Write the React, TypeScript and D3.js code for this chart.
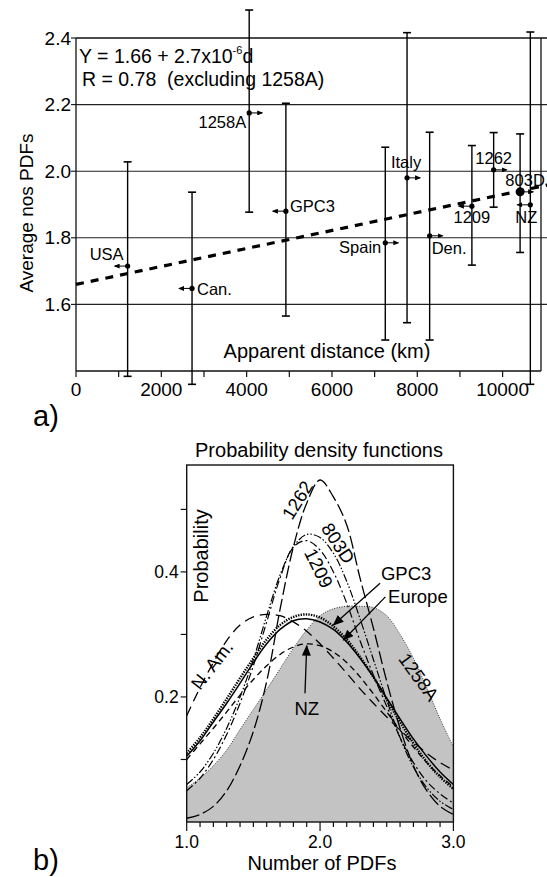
import * as d3 from "d3";
import React from "react";

// ---- panel a: average number of PDFs vs apparent distance ----
const sites = ["USA", "Can.", "1258A", "GPC3", "Spain", "Italy", "Den.", "1209", "1262", "803D", "NZ"];
const distanceKm = [1210, 2720, 4060, 4920, 7250, 7760, 8290, 9280, 9790, 10410, 10650];
const meanPdfs = [1.715, 1.648, 2.175, 1.88, 1.785, 1.98, 1.806, 1.895, 2.004, 1.938, 1.899];
const upperPdfs = [2.028, 1.937, 2.484, 2.204, 2.072, 2.416, 2.117, 2.077, 2.116, 2.112, 2.418];
const lowerPdfs = [1.384, 1.36, 1.877, 1.565, 1.493, 1.545, 1.493, 1.718, 1.892, 1.756, 1.36];
// direction of the bound arrow on distance (-1 left, 1 right)
const distanceBound = [-1, -1, 1, -1, 1, 1, 1, -1, 1, 1, -1];
const trendIntercept = 1.66;
const trendSlope = 2.7e-5;
const distanceTicks = [0, 1000, 2000, 3000, 4000, 5000, 6000, 7000, 8000, 9000, 10000];
const distanceLabels = [0, 2000, 4000, 6000, 8000, 10000];
const pdfGrid = [1.6, 1.8, 2.0, 2.2];
const pdfTickLabels = [1.6, 1.8, 2.0, 2.2, 2.4];

// ---- panel b: probability density functions ----
const numPdfs = [1.0, 1.1, 1.2, 1.3, 1.4, 1.5, 1.6, 1.7, 1.8, 1.9, 2.0, 2.1, 2.2, 2.3, 2.4, 2.5, 2.6, 2.7, 2.8, 2.9, 3.0];
const pdf1258A = [0.055, 0.07, 0.09, 0.115, 0.148, 0.18, 0.212, 0.245, 0.278, 0.307, 0.33, 0.341, 0.345, 0.345, 0.343, 0.33, 0.3, 0.262, 0.215, 0.165, 0.12];
const pdf1262 = [0.006, 0.012, 0.025, 0.05, 0.09, 0.145, 0.225, 0.34, 0.44, 0.51, 0.547, 0.52, 0.475, 0.39, 0.31, 0.225, 0.15, 0.09, 0.05, 0.025, 0.012];
const pdf803D = [0.06, 0.08, 0.11, 0.15, 0.2, 0.26, 0.33, 0.395, 0.44, 0.46, 0.455, 0.43, 0.385, 0.325, 0.26, 0.195, 0.135, 0.088, 0.055, 0.033, 0.02];
const pdf1209 = [0.05, 0.07, 0.1, 0.14, 0.19, 0.25, 0.32, 0.39, 0.44, 0.45, 0.435, 0.4, 0.35, 0.29, 0.235, 0.185, 0.135, 0.095, 0.065, 0.045, 0.03];
const pdfGPC3 = [0.105, 0.13, 0.16, 0.19, 0.222, 0.255, 0.285, 0.308, 0.322, 0.325, 0.32, 0.308, 0.288, 0.262, 0.232, 0.198, 0.165, 0.133, 0.105, 0.08, 0.06];
const pdfEurope = [0.11, 0.135, 0.165, 0.197, 0.23, 0.262, 0.292, 0.315, 0.328, 0.332, 0.327, 0.313, 0.292, 0.264, 0.232, 0.196, 0.16, 0.126, 0.096, 0.072, 0.053];
const pdfNAm = [0.17, 0.215, 0.255, 0.29, 0.315, 0.328, 0.332, 0.33, 0.32, 0.305, 0.285, 0.262, 0.238, 0.213, 0.19, 0.168, 0.147, 0.128, 0.11, 0.095, 0.083];
const pdfNZ = [0.1, 0.125, 0.15, 0.176, 0.203, 0.228, 0.25, 0.268, 0.28, 0.285, 0.282, 0.272, 0.255, 0.232, 0.205, 0.176, 0.147, 0.12, 0.095, 0.074, 0.056];
const probTicks = [0.1, 0.2, 0.3, 0.4, 0.5];
const probLabels = [0.2, 0.4];
const numTicks = [1.0, 1.1, 1.2, 1.3, 1.4, 1.5, 1.6, 1.7, 1.8, 1.9, 2.0, 2.1, 2.2, 2.3, 2.4, 2.5, 2.6, 2.7, 2.8, 2.9, 3.0];
const numLabels = [1.0, 2.0, 3.0];

const FONT = "'Liberation Sans', Arial, Helvetica, sans-serif";

// label placement next to each point: dx, dy, anchor
const siteLabel: Record<string, [number, number, string]> = {
  USA: [-4, -6, "end"],
  "Can.": [5, 7, "start"],
  "1258A": [-3, 15, "end"],
  GPC3: [4, 1, "start"],
  Spain: [-4, 10, "end"],
  Italy: [-1, -10, "middle"],
  "Den.": [2, 18, "start"],
  "1209": [0, 17, "middle"],
  "1262": [0, -6, "middle"],
  "803D": [5, -6, "middle"],
  NZ: [-4, 18, "middle"],
};

const curves = [
  { name: "1262", values: pdf1262, dash: "13,4", width: 1.3 },
  { name: "803D", values: pdf803D, dash: "8,2,1.5,2,1.5,2", width: 1.2 },
  { name: "1209", values: pdf1209, dash: "8,3,2,3", width: 1.2 },
  { name: "N. Am.", values: pdfNAm, dash: "10,6", width: 1.3 },
  { name: "NZ", values: pdfNZ, dash: "6,4", width: 1.3 },
  { name: "GPC3", values: pdfGPC3, dash: "none", width: 1.5 },
  { name: "Europe", values: pdfEurope, dash: "1.4,1.2", width: 2.4 },
];

export default function App() {
  const x = d3.scaleLinear().domain([0, 10900]).range([76, 541]);
  const y = d3.scaleLinear().domain([1.4, 2.4]).range([371, 38]);
  const bx = d3.scaleLinear().domain([1, 3]).range([186.7, 453.4]);
  const by = d3.scaleLinear().domain([0, 0.571]).range([822, 465]);

  const line = (vals: number[]) =>
    d3
      .line<number>()
      .x((_, i) => bx(numPdfs[i]))
      .y((v) => by(v))
      .curve(d3.curveCatmullRom)(vals) || "";
  const area1258 =
    d3
      .area<number>()
      .x((_, i) => bx(numPdfs[i]))
      .y0(by(0))
      .y1((v) => by(v))
      .curve(d3.curveCatmullRom)(pdf1258A) || "";

  const trendEnd = 11050;
  const [ax0, ax1] = x.range();
  const [ay0, ay1] = y.range();

  // annotations in data units for panel b
  const arrow = (tail: [number, number], tip: [number, number]) => (
    <line
      x1={bx(tail[0])}
      y1={by(tail[1])}
      x2={bx(tip[0])}
      y2={by(tip[1])}
      stroke="#000"
      strokeWidth={1.3}
      markerEnd="url(#headBig)"
    />
  );
  const rotLabel = (t: string, at: [number, number], angle: number) => (
    <text
      transform={`translate(${bx(at[0])},${by(at[1])}) rotate(${angle})`}
      textAnchor="middle"
      dy="0.35em"
      fontSize={18.5}
    >
      {t}
    </text>
  );

  return (
    <svg
      width={547}
      height={877}
      style={{ position: "absolute", left: 0, top: 0, background: "#fff" }}
      fontFamily={FONT}
    >
      <defs>
        <marker id="headSmall" markerWidth={6} markerHeight={5} refX={5} refY={2.5} orient="auto" markerUnits="userSpaceOnUse">
          <path d="M0,0 L6,2.5 L0,5 z" fill="#000" />
        </marker>
        <marker id="headBig" markerWidth={11} markerHeight={9} refX={10} refY={4.5} orient="auto" markerUnits="userSpaceOnUse">
          <path d="M0,0 L11,4.5 L0,9 z" fill="#000" />
        </marker>
        <clipPath id="clipB">
          <rect x={bx(1)} y={by(0.571)} width={bx(3) - bx(1)} height={by(0) - by(0.571)} />
        </clipPath>
      </defs>

      {/* ---------- panel a ---------- */}
      <g>
        {pdfGrid.map((v) => (
          <line key={v} x1={ax0} x2={547} y1={y(v)} y2={y(v)} stroke="#222" strokeWidth={1.1} />
        ))}
        <line x1={ax0} x2={547} y1={ay1} y2={ay1} stroke="#111" strokeWidth={1.3} />
        <line x1={ax0} x2={ax1} y1={ay0} y2={ay0} stroke="#111" strokeWidth={1.4} />
        <line x1={ax0} x2={ax0} y1={ay0} y2={ay1} stroke="#111" strokeWidth={1.3} />
        <line x1={ax1} x2={ax1} y1={ay0} y2={ay1} stroke="#111" strokeWidth={1.3} />

        {pdfTickLabels.map((v) => (
          <g key={v}>
            <line x1={ax0 - 5} x2={ax0} y1={y(v)} y2={y(v)} stroke="#111" strokeWidth={1.1} />
            <text x={ax0 - 5} y={y(v)} dy="0.35em" textAnchor="end" fontSize={19}>
              {v.toFixed(1)}
            </text>
          </g>
        ))}
        {distanceTicks.map((d) => (
          <line key={d} x1={x(d)} x2={x(d)} y1={ay0} y2={ay0 + 6} stroke="#111" strokeWidth={1.2} />
        ))}
        {distanceLabels.map((d) => (
          <text key={d} x={x(d)} y={396} textAnchor="middle" fontSize={19}>
            {d}
          </text>
        ))}
        <text x={327} y={358} textAnchor="middle" fontSize={20}>
          Apparent distance (km)
        </text>
        <text transform="translate(33,213) rotate(-90)" textAnchor="middle" fontSize={19}>
          Average nos PDFs
        </text>
        <text x={79} y={63} fontSize={19.5}>
          Y = 1.66 + 2.7x10
          <tspan fontSize={11} dy={-9}>-6</tspan>
          <tspan dy={9}>d</tspan>
        </text>
        <text x={82} y={86} fontSize={19.5} style={{ whiteSpace: "pre" }}>
          {"R = 0.78  (excluding 1258A)"}
        </text>

        {/* trend line */}
        <line
          x1={x(0)}
          y1={y(trendIntercept)}
          x2={x(trendEnd)}
          y2={y(trendIntercept + trendSlope * trendEnd)}
          stroke="#000"
          strokeWidth={3.2}
          strokeDasharray="8,7"
        />

        {sites.map((s, i) => {
          const cx = x(distanceKm[i]);
          const cy = y(meanPdfs[i]);
          const [dx, dy, anchor] = siteLabel[s];
          return (
            <g key={s}>
              <line x1={cx} x2={cx} y1={y(upperPdfs[i])} y2={y(lowerPdfs[i])} stroke="#000" strokeWidth={1.4} />
              <line x1={cx - 4} x2={cx + 4} y1={y(upperPdfs[i])} y2={y(upperPdfs[i])} stroke="#000" strokeWidth={1.6} />
              <line x1={cx - 4} x2={cx + 4} y1={y(lowerPdfs[i])} y2={y(lowerPdfs[i])} stroke="#000" strokeWidth={1.6} />
              <line
                x1={cx}
                x2={cx + distanceBound[i] * 13}
                y1={cy}
                y2={cy}
                stroke="#000"
                strokeWidth={1}
                markerEnd="url(#headSmall)"
              />
              <circle cx={cx} cy={cy} r={s === "803D" ? 4.5 : 2.6} fill="#000" />
              <text x={cx + dx} y={cy + dy} textAnchor={anchor as any} fontSize={16.5}>
                {s}
              </text>
            </g>
          );
        })}
        <text x={33} y={426} fontSize={29}>
          a)
        </text>
      </g>

      {/* ---------- panel b ---------- */}
      <g>
        <g clipPath="url(#clipB)">
          <path d={area1258} fill="#c3c3c3" />
          <path d={line(pdf1258A)} fill="none" stroke="#333" strokeWidth={1} strokeDasharray="1,1.5" />
          {curves.map((c) => (
            <path
              key={c.name}
              d={line(c.values)}
              fill="none"
              stroke="#000"
              strokeWidth={c.width}
              strokeDasharray={c.dash}
            />
          ))}
        </g>
        <rect
          x={bx(1)}
          y={by(0.571)}
          width={bx(3) - bx(1)}
          height={by(0) - by(0.571)}
          fill="none"
          stroke="#111"
          strokeWidth={1.4}
        />
        {probTicks.map((v) => (
          <line key={v} x1={bx(1) - 6} x2={bx(1)} y1={by(v)} y2={by(v)} stroke="#111" strokeWidth={1.2} />
        ))}
        {probLabels.map((v) => (
          <text key={v} x={bx(1) - 8} y={by(v)} dy="0.35em" textAnchor="end" fontSize={17.5}>
            {v.toFixed(1)}
          </text>
        ))}
        {numTicks.map((v, i) => (
          <line
            key={v}
            x1={bx(v)}
            x2={bx(v)}
            y1={by(0)}
            y2={by(0) + (i % 10 === 0 ? 9 : 5)}
            stroke="#111"
            strokeWidth={1.2}
          />
        ))}
        {numLabels.map((v) => (
          <text key={v} x={bx(v)} y={848} textAnchor="middle" fontSize={17.5}>
            {v.toFixed(1)}
          </text>
        ))}
        <text x={322} y={870} textAnchor="middle" fontSize={20}>
          Number of PDFs
        </text>
        <text x={319} y={457} textAnchor="middle" fontSize={20}>
          Probability density functions
        </text>
        <text transform="translate(208,556) rotate(-90)" textAnchor="middle" fontSize={20}>
          Probability
        </text>

        {rotLabel("1262", [1.83, 0.515], -58)}
        {rotLabel("803D", [2.135, 0.446], 57)}
        {rotLabel("1209", [1.99, 0.406], 64)}
        {rotLabel("N. Am.", [1.19, 0.251], -52)}
        {rotLabel("1258A", [2.74, 0.232], 54)}

        {arrow([2.45, 0.382], [2.1, 0.315])}
        {arrow([2.49, 0.36], [2.175, 0.291])}
        {arrow([1.887, 0.206], [1.9, 0.282])}
        <text x={bx(2.457)} y={by(0.387)} fontSize={18.5}>
          GPC3
        </text>
        <text x={bx(2.51)} y={by(0.35)} fontSize={18.5}>
          Europe
        </text>
        <text x={bx(1.9)} y={715} textAnchor="middle" fontSize={18.5}>
          NZ
        </text>
        <text x={33} y={870} fontSize={29}>
          b)
        </text>
      </g>
    </svg>
  );
}
